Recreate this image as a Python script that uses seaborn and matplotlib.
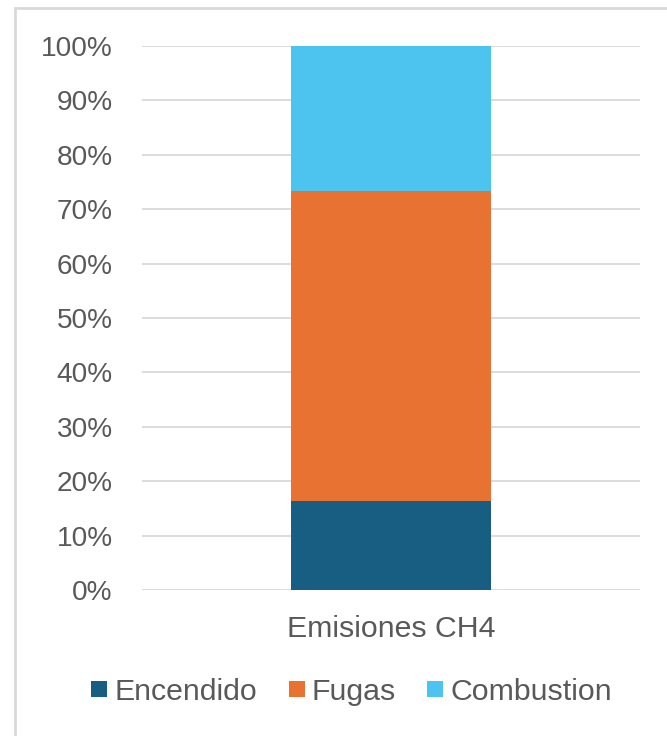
import matplotlib
matplotlib.use("Agg")
import matplotlib.pyplot as plt
from matplotlib.lines import Line2D
from matplotlib.patches import Rectangle
from matplotlib.ticker import PercentFormatter
import numpy as np
import pandas as pd
import seaborn as sns

# Share of CH4 emissions by source (percent)
category = ["Emisiones CH4"]
sources = ["Encendido", "Fugas", "Combustion"]
shares = [16.4, 57.0, 26.6]
colors = ["#175E82", "#E87232", "#4DC3EF"]
y_ticks = list(range(0, 101, 10))

sns.set_theme(style="white")
plt.rcParams["font.family"] = ["Liberation Sans", "DejaVu Sans"]

fig = plt.figure(figsize=(6.67, 7.36), dpi=100)
ax = fig.add_axes([142 / 667, 1 - 590 / 736, 498 / 667, 544 / 736])

# Stacked bar: draw cumulative totals from the top segment down
tops = np.cumsum(shares)
for src, top, col in reversed(list(zip(sources, tops, colors))):
    df = pd.DataFrame({"cat": category, "val": [top]})
    sns.barplot(data=df, x="cat", y="val", color=col, width=0.4,
                linewidth=0, saturation=1, ax=ax, zorder=3)

ax.set_ylim(0, 100)
ax.set_xlim(-0.5, 0.5)
ax.set_yticks(y_ticks)
ax.yaxis.set_major_formatter(PercentFormatter(decimals=0))
ax.grid(axis="y", color="#D9D9D9", linewidth=1.3, zorder=0)
ax.grid(axis="x", visible=False)
for s in ax.spines.values():
    s.set_visible(False)
ax.set_xlabel("")
ax.set_ylabel("")
ax.tick_params(axis="y", length=0, pad=21, labelsize=20.2, labelcolor="#595959")
ax.tick_params(axis="x", length=0, pad=18, labelsize=21.8, labelcolor="#595959")

# Legend below the plot with small square markers
handles = [Line2D([], [], marker="s", linestyle="none", markersize=11,
                  markerfacecolor=c, markeredgewidth=0) for c in colors]
fig.legend(handles, sources, loc="center", bbox_to_anchor=(352 / 667, 1 - 692 / 736),
           ncol=3, frameon=False, fontsize=21.8, labelcolor="#595959",
           handlelength=0.5, handletextpad=0.25, columnspacing=1.05,
           borderpad=0, borderaxespad=0)

# Light frame around the chart area
fig.patches.append(Rectangle((15 / 667, -0.1), 1.2, 1 - 8 / 736 + 0.1,
                             transform=fig.transFigure, fill=False,
                             edgecolor="#D9D9D9", linewidth=2, zorder=0))

fig.savefig("out.png", dpi=100)
